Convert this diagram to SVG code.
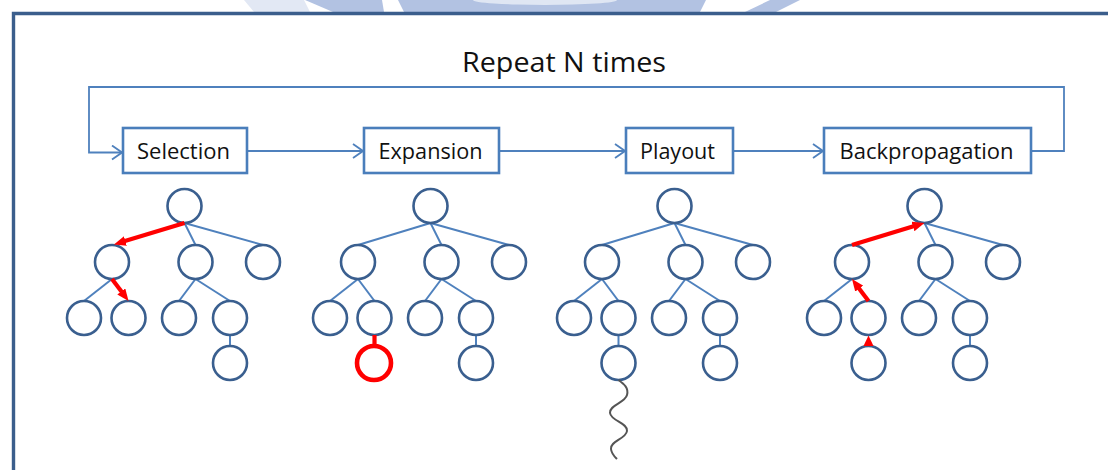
<svg xmlns="http://www.w3.org/2000/svg" width="1108" height="470" viewBox="0 0 1108 470">
  <defs>
    <style>
      .frame { fill: none; stroke: #3b5e8c; stroke-width: 3.4; }
      .box { fill: #ffffff; stroke: #4a7ebb; stroke-width: 2.6; }
      .flow { fill: none; stroke: #4f81bd; stroke-width: 1.8; }
      .label { font-family: "Open Sans", "Liberation Sans", sans-serif; font-size: 21px; fill: #111111; }
      .title { font-family: "Open Sans", "Liberation Sans", sans-serif; font-size: 28px; fill: #111111; }
      .node { fill: #ffffff; stroke: #3a5f8f; stroke-width: 2.6; }
      .edge { stroke: #4f81bd; stroke-width: 2; fill: none; }
      .hot { stroke: #ff0000; stroke-width: 4.2; fill: none; }
      .hotnode { fill: #ffffff; stroke: #ff0000; stroke-width: 4.6; }
      .wm { fill: #b2c2e2; }
      .wave { fill: none; stroke: #555555; stroke-width: 2; }
    </style>
    <marker id="chevron" viewBox="0 0 12 16" refX="11" refY="8" markerWidth="12" markerHeight="16" markerUnits="userSpaceOnUse" orient="auto">
      <path d="M1,1 L11,8 L1,15" fill="none" stroke="#4f81bd" stroke-width="1.8"/>
    </marker>
    <marker id="redhead" viewBox="0 0 12 10" refX="4" refY="5" markerWidth="12" markerHeight="10" markerUnits="userSpaceOnUse" orient="auto">
      <path d="M0,0 L12,5 L0,10 Z" fill="#ff0000"/>
    </marker>
    <!-- shared tree skeleton: parent bottom to child top -->
    <g id="node-set">
      <circle class="node" cx="184.5" cy="206" r="17"/>
      <circle class="node" cx="112" cy="262" r="17"/>
      <circle class="node" cx="195.5" cy="262" r="17"/>
      <circle class="node" cx="263" cy="262" r="17"/>
      <circle class="node" cx="84" cy="318" r="17"/>
      <circle class="node" cx="128.5" cy="318" r="17"/>
      <circle class="node" cx="179" cy="318" r="17"/>
      <circle class="node" cx="230" cy="318" r="17"/>
      <circle class="node" cx="230" cy="363" r="17"/>
    </g>
  </defs>

  <!-- faint logo fragment above the frame -->
  <g id="watermark">
    <polygon points="244,0 304,0 310,12 254,12" fill="#e2e8f4"/>
    <polygon class="wm" points="305,0 382,0 384,12 333,12"/>
    <polygon class="wm" points="398,0 706,0 700,12 404,12"/>
    <ellipse cx="545" cy="0" rx="72" ry="5" fill="#dfe6f3"/>
    <polygon class="wm" points="770,0 800,0 776,12 745,12"/>
  </g>

  <!-- outer frame -->
  <path class="frame" d="M13.5,472 V13.5 H1112"/>

  <text class="title" x="564" y="72" text-anchor="middle" textLength="204" lengthAdjust="spacingAndGlyphs">Repeat N times</text>

  <!-- loop and stage connectors -->
  <g id="connectors">
    <path class="flow" d="M1032,151 H1064 V87 H89 V152.5 H122" marker-end="url(#chevron)"/>
    <path class="flow" d="M247,151 H363" marker-end="url(#chevron)"/>
    <path class="flow" d="M499,151 H625" marker-end="url(#chevron)"/>
    <path class="flow" d="M733,151 H823" marker-end="url(#chevron)"/>
  </g>

  <!-- stage boxes -->
  <g id="selection">
    <rect class="box" x="123" y="128" width="124" height="45"/>
    <text class="label" x="183.5" y="158.5" text-anchor="middle" textLength="93" lengthAdjust="spacingAndGlyphs">Selection</text>
  </g>
  <g id="expansion">
    <rect class="box" x="364" y="128" width="135" height="45"/>
    <text class="label" x="430.5" y="158.5" text-anchor="middle" textLength="104" lengthAdjust="spacingAndGlyphs">Expansion</text>
  </g>
  <g id="playout">
    <rect class="box" x="626" y="128" width="107" height="45"/>
    <text class="label" x="677.5" y="158.5" text-anchor="middle" textLength="75" lengthAdjust="spacingAndGlyphs">Playout</text>
  </g>
  <g id="backpropagation">
    <rect class="box" x="824" y="128" width="207" height="45"/>
    <text class="label" x="926.5" y="158.5" text-anchor="middle" textLength="174" lengthAdjust="spacingAndGlyphs">Backpropagation</text>
  </g>

  <!-- tree 1: selection path -->
  <g id="tree-selection">
    <line class="edge" x1="184.5" y1="223" x2="195.5" y2="245"/>
    <line class="edge" x1="184.5" y1="223" x2="263" y2="245"/>
    <line class="edge" x1="112" y1="279" x2="84" y2="301"/>
    <line class="edge" x1="195.5" y1="279" x2="179" y2="301"/>
    <line class="edge" x1="195.5" y1="279" x2="230" y2="301"/>
    <line class="edge" x1="230" y1="335" x2="230" y2="346"/>
    <use href="#node-set"/>
    <line class="hot" x1="184.5" y1="223" x2="121.6" y2="242.1" marker-end="url(#redhead)"/>
    <line class="hot" x1="112" y1="279" x2="123.7" y2="294.6" marker-end="url(#redhead)"/>
  </g>

  <!-- tree 2: new leaf added -->
  <g id="tree-expansion" transform="translate(246,0)">
    <line class="edge" x1="184.5" y1="223" x2="112" y2="245"/>
    <line class="edge" x1="184.5" y1="223" x2="195.5" y2="245"/>
    <line class="edge" x1="184.5" y1="223" x2="263" y2="245"/>
    <line class="edge" x1="112" y1="279" x2="84" y2="301"/>
    <line class="edge" x1="112" y1="279" x2="128.5" y2="301"/>
    <line class="edge" x1="195.5" y1="279" x2="179" y2="301"/>
    <line class="edge" x1="195.5" y1="279" x2="230" y2="301"/>
    <line class="edge" x1="230" y1="335" x2="230" y2="346"/>
    <use href="#node-set"/>
    <line class="hot" x1="128.5" y1="335" x2="128.5" y2="346"/>
    <circle id="new-leaf" class="hotnode" cx="128" cy="363" r="17"/>
  </g>

  <!-- tree 3: random playout from the new leaf -->
  <g id="tree-playout" transform="translate(490,0)">
    <line class="edge" x1="184.5" y1="223" x2="112" y2="245"/>
    <line class="edge" x1="184.5" y1="223" x2="195.5" y2="245"/>
    <line class="edge" x1="184.5" y1="223" x2="263" y2="245"/>
    <line class="edge" x1="112" y1="279" x2="84" y2="301"/>
    <line class="edge" x1="112" y1="279" x2="128.5" y2="301"/>
    <line class="edge" x1="195.5" y1="279" x2="179" y2="301"/>
    <line class="edge" x1="195.5" y1="279" x2="230" y2="301"/>
    <line class="edge" x1="230" y1="335" x2="230" y2="346"/>
    <line class="edge" x1="128.5" y1="335" x2="128.5" y2="346"/>
    <use href="#node-set"/>
    <circle class="node" cx="128.5" cy="363" r="17"/>
    <path class="wave" d="M128.5,380 C134,384 139,388 137,395 C135,403 119,405 120,413 C121,421 138,423 137,431 C136,439 120,441 121,449 C121.5,454 125,457 127,459"/>
  </g>

  <!-- tree 4: result propagated back to the root -->
  <g id="tree-backpropagation" transform="translate(740,0)">
    <line class="edge" x1="184.5" y1="223" x2="195.5" y2="245"/>
    <line class="edge" x1="184.5" y1="223" x2="263" y2="245"/>
    <line class="edge" x1="112" y1="279" x2="84" y2="301"/>
    <line class="edge" x1="195.5" y1="279" x2="179" y2="301"/>
    <line class="edge" x1="195.5" y1="279" x2="230" y2="301"/>
    <line class="edge" x1="230" y1="335" x2="230" y2="346"/>
    <use href="#node-set"/>
    <circle class="node" cx="128.5" cy="363" r="17"/>
    <line class="hot" x1="112" y1="245" x2="176.8" y2="225.3" marker-end="url(#redhead)"/>
    <line class="hot" x1="128.5" y1="301" x2="116.8" y2="285.4" marker-end="url(#redhead)"/>
    <polygon points="128.5,335.5 133.5,346 123.5,346" fill="#ff0000"/>
  </g>
</svg>
